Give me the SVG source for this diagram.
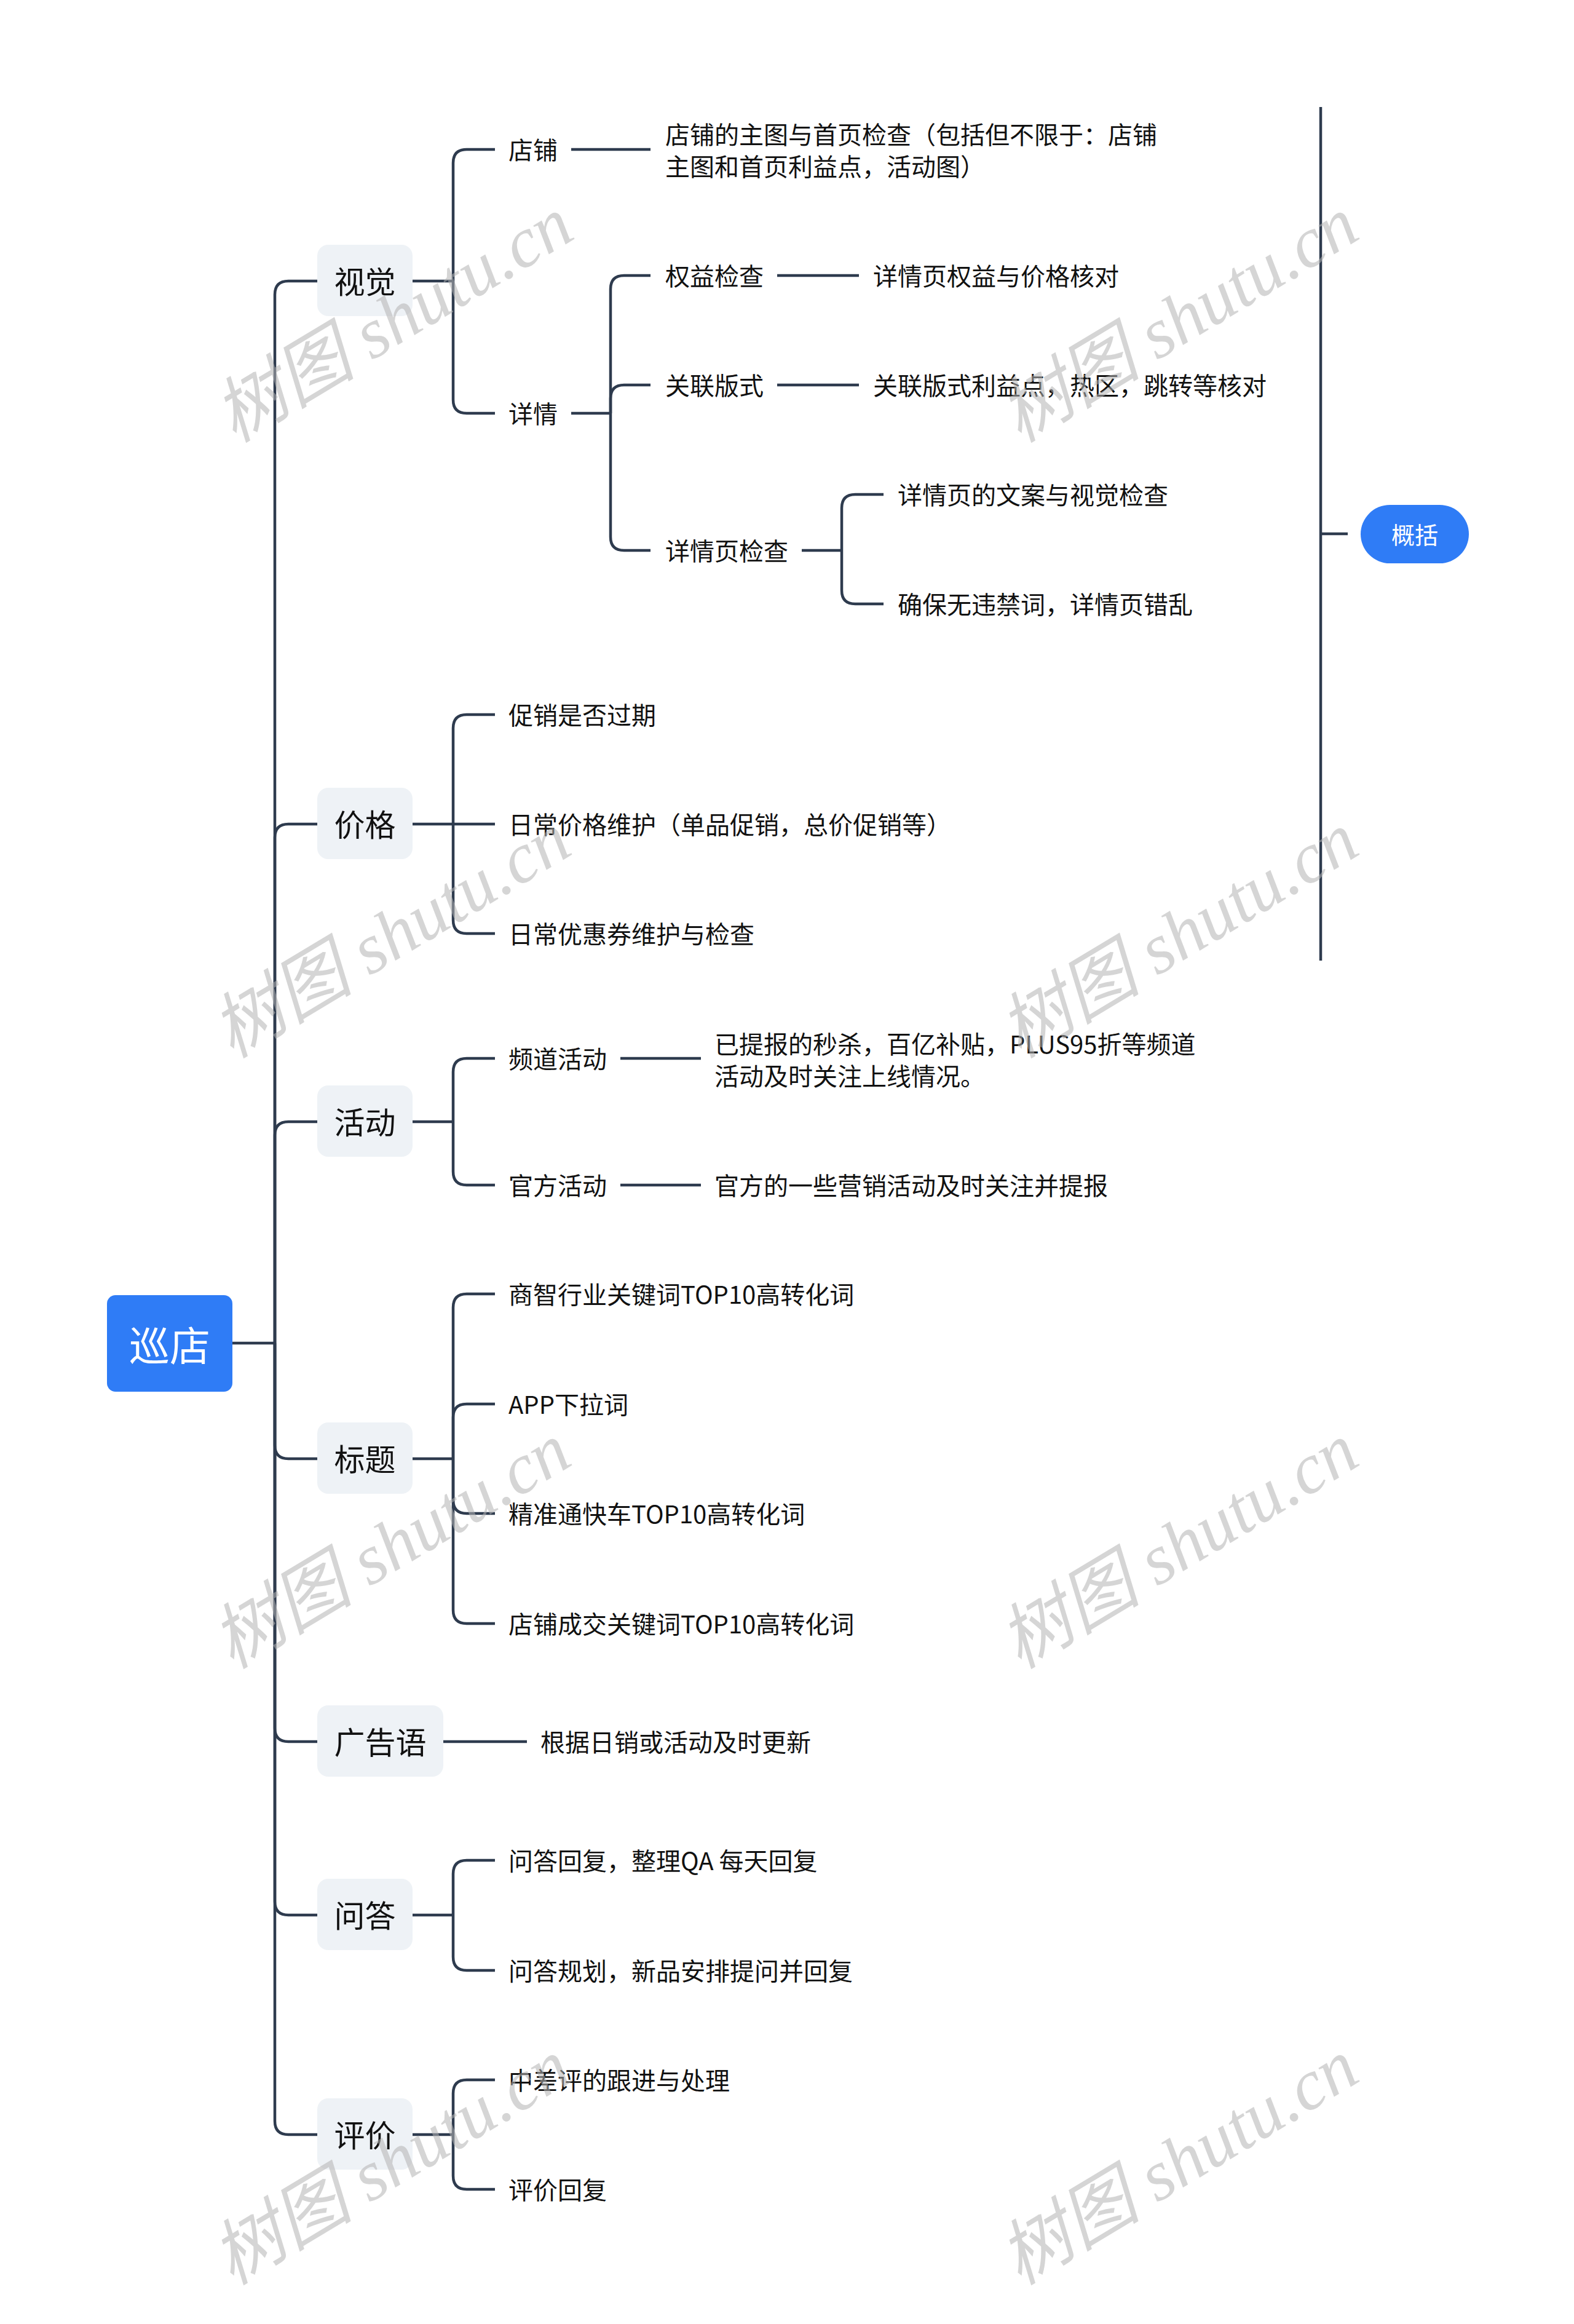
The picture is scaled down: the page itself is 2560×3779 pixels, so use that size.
<svg xmlns="http://www.w3.org/2000/svg" width="2560" height="3779" viewBox="0 0 2560 3779">
<style>
.bg{fill:#ffffff}
.c{fill:none;stroke:#2e3b4e;stroke-width:4.5;stroke-linecap:butt}
.t{font-family:"Noto Sans CJK SC","Noto Sans",sans-serif;fill:#111111;dominant-baseline:central}
.t2{font-size:40px}
.t1{font-size:50px;text-anchor:middle}
.l1{fill:#eef2f6}
.root{fill:#2f7cf6}
.rt{font-family:"Noto Sans CJK SC","Noto Sans",sans-serif;fill:#ffffff;text-anchor:middle;dominant-baseline:central}
.wm{font-family:"Liberation Serif","Noto Sans CJK SC",serif;font-style:italic;font-size:116px;fill:#b4b4b4;opacity:0.55;text-anchor:middle;dominant-baseline:central}
</style>
<rect class="bg" x="0" y="0" width="2560" height="3779"/>

<g id="connectors">
  <path class="c" d="M378,2184 H447"/>
  <path class="c" d="M447,2184 V479 Q447,457 469,457 H516"/>
  <path class="c" d="M447,2184 V1362 Q447,1340 469,1340 H516"/>
  <path class="c" d="M447,2184 V1846 Q447,1824 469,1824 H516"/>
  <path class="c" d="M447,2184 V2350 Q447,2372 469,2372 H516"/>
  <path class="c" d="M447,2184 V2810 Q447,2832 469,2832 H516"/>
  <path class="c" d="M447,2184 V3092 Q447,3114 469,3114 H516"/>
  <path class="c" d="M447,2184 V3449 Q447,3471 469,3471 H516"/>
  <path class="c" d="M671,457 H737"/>
  <path class="c" d="M737,457 V265 Q737,243 759,243 H805"/>
  <path class="c" d="M737,457 V650 Q737,672 759,672 H805"/>
  <path class="c" d="M929,243 H1058"/>
  <path class="c" d="M929,672 H993"/>
  <path class="c" d="M993,672 V470 Q993,448 1015,448 H1058"/>
  <path class="c" d="M993,672 V648 Q993,626 1015,626 H1058"/>
  <path class="c" d="M993,672 V873 Q993,895 1015,895 H1058"/>
  <path class="c" d="M1264,448 H1397"/>
  <path class="c" d="M1264,626 H1397"/>
  <path class="c" d="M1304,895 H1369"/>
  <path class="c" d="M1369,895 V826 Q1369,804 1391,804 H1437"/>
  <path class="c" d="M1369,895 V960 Q1369,982 1391,982 H1437"/>
  <path class="c" d="M671,1340 H737"/>
  <path class="c" d="M737,1340 V1184 Q737,1162 759,1162 H805"/>
  <path class="c" d="M737,1340 H805"/>
  <path class="c" d="M737,1340 V1496 Q737,1518 759,1518 H805"/>
  <path class="c" d="M671,1824 H737"/>
  <path class="c" d="M737,1824 V1743 Q737,1721 759,1721 H805"/>
  <path class="c" d="M737,1824 V1905 Q737,1927 759,1927 H805"/>
  <path class="c" d="M1009,1721 H1140"/>
  <path class="c" d="M1009,1927 H1140"/>
  <path class="c" d="M671,2372 H737"/>
  <path class="c" d="M737,2372 V2126 Q737,2104 759,2104 H805"/>
  <path class="c" d="M737,2372 V2305 Q737,2283 759,2283 H805"/>
  <path class="c" d="M737,2372 V2439 Q737,2461 759,2461 H805"/>
  <path class="c" d="M737,2372 V2618 Q737,2640 759,2640 H805"/>
  <path class="c" d="M721,2832 H857"/>
  <path class="c" d="M671,3114 H737"/>
  <path class="c" d="M737,3114 V3047 Q737,3025 759,3025 H805"/>
  <path class="c" d="M737,3114 V3182 Q737,3204 759,3204 H805"/>
  <path class="c" d="M671,3471 H737"/>
  <path class="c" d="M737,3471 V3404 Q737,3382 759,3382 H805"/>
  <path class="c" d="M737,3471 V3538 Q737,3560 759,3560 H805"/>
  <path class="c" d="M2148,174 V1562"/>
  <path class="c" d="M2148,868 H2192"/>
</g>

<g id="root">
  <rect class="root" x="174" y="2106" width="204" height="157" rx="14"/>
  <text class="rt" x="276" y="2184" font-size="66">巡店</text>
</g>

<g id="n-shijue">
  <rect class="l1" x="516" y="398" width="155" height="116" rx="18"/>
  <text class="t t1" x="593.5" y="455">视觉</text>
</g>
<g id="n-jiage">
  <rect class="l1" x="516" y="1281" width="155" height="116" rx="18"/>
  <text class="t t1" x="593.5" y="1338">价格</text>
</g>
<g id="n-huodong">
  <rect class="l1" x="516" y="1765" width="155" height="116" rx="18"/>
  <text class="t t1" x="593.5" y="1822">活动</text>
</g>
<g id="n-biaoti">
  <rect class="l1" x="516" y="2313" width="155" height="116" rx="18"/>
  <text class="t t1" x="593.5" y="2370">标题</text>
</g>
<g id="n-guanggaoyu">
  <rect class="l1" x="516" y="2773" width="205" height="116" rx="18"/>
  <text class="t t1" x="618.5" y="2830">广告语</text>
</g>
<g id="n-wenda">
  <rect class="l1" x="516" y="3055" width="155" height="116" rx="18"/>
  <text class="t t1" x="593.5" y="3112">问答</text>
</g>
<g id="n-pingjia">
  <rect class="l1" x="516" y="3412" width="155" height="116" rx="18"/>
  <text class="t t1" x="593.5" y="3469">评价</text>
</g>

<g id="n-dianpu"><text class="t t2" x="827" y="242">店铺</text></g>
<g id="n-dianpu-d"><text class="t t2" x="1082" y="217">店铺的主图与首页检查（包括但不限于：店铺</text><text class="t t2" x="1082" y="269">主图和首页利益点，活动图）</text></g>
<g id="n-xiangqing"><text class="t t2" x="827" y="671">详情</text></g>
<g id="n-quanyi"><text class="t t2" x="1082" y="447">权益检查</text></g>
<g id="n-quanyi-d"><text class="t t2" x="1420" y="447">详情页权益与价格核对</text></g>
<g id="n-guanlian"><text class="t t2" x="1082" y="625">关联版式</text></g>
<g id="n-guanlian-d"><text class="t t2" x="1420" y="625">关联版式利益点，热区，跳转等核对</text></g>
<g id="n-xqy"><text class="t t2" x="1082" y="894">详情页检查</text></g>
<g id="n-xqy-1"><text class="t t2" x="1460" y="803">详情页的文案与视觉检查</text></g>
<g id="n-xqy-2"><text class="t t2" x="1460" y="981">确保无违禁词，详情页错乱</text></g>

<g id="n-jg1"><text class="t t2" x="827" y="1161">促销是否过期</text></g>
<g id="n-jg2"><text class="t t2" x="827" y="1339">日常价格维护（单品促销，总价促销等）</text></g>
<g id="n-jg3"><text class="t t2" x="827" y="1517">日常优惠券维护与检查</text></g>

<g id="n-pindao"><text class="t t2" x="827" y="1720">频道活动</text></g>
<g id="n-pindao-d"><text class="t t2" x="1162" y="1696">已提报的秒杀，百亿补贴，PLUS95折等频道</text><text class="t t2" x="1162" y="1748">活动及时关注上线情况。</text></g>
<g id="n-guanfang"><text class="t t2" x="827" y="1926">官方活动</text></g>
<g id="n-guanfang-d"><text class="t t2" x="1162" y="1926">官方的一些营销活动及时关注并提报</text></g>

<g id="n-bt1"><text class="t t2" x="827" y="2103">商智行业关键词TOP10高转化词</text></g>
<g id="n-bt2"><text class="t t2" x="827" y="2282">APP下拉词</text></g>
<g id="n-bt3"><text class="t t2" x="827" y="2460">精准通快车TOP10高转化词</text></g>
<g id="n-bt4"><text class="t t2" x="827" y="2639">店铺成交关键词TOP10高转化词</text></g>

<g id="n-ggy1"><text class="t t2" x="879" y="2831">根据日销或活动及时更新</text></g>

<g id="n-wd1"><text class="t t2" x="827" y="3024">问答回复，整理QA 每天回复</text></g>
<g id="n-wd2"><text class="t t2" x="827" y="3203">问答规划，新品安排提问并回复</text></g>

<g id="n-pj1"><text class="t t2" x="827" y="3381">中差评的跟进与处理</text></g>
<g id="n-pj2"><text class="t t2" x="827" y="3559">评价回复</text></g>

<g id="n-gaikuo">
  <rect class="root" x="2213" y="821" width="176" height="95" rx="47.5"/>
  <text class="rt" x="2301" y="867" font-size="38">概括</text>
</g>

<g id="watermarks">
  <text class="wm" x="640" y="520" transform="rotate(-31 640 520)">树图 shutu.cn</text>
  <text class="wm" x="1917" y="520" transform="rotate(-31 1917 520)">树图 shutu.cn</text>
  <text class="wm" x="636" y="1521" transform="rotate(-31 636 1521)">树图 shutu.cn</text>
  <text class="wm" x="1917" y="1521" transform="rotate(-31 1917 1521)">树图 shutu.cn</text>
  <text class="wm" x="636" y="2514" transform="rotate(-31 636 2514)">树图 shutu.cn</text>
  <text class="wm" x="1917" y="2514" transform="rotate(-31 1917 2514)">树图 shutu.cn</text>
  <text class="wm" x="636" y="3516" transform="rotate(-31 636 3516)">树图 shutu.cn</text>
  <text class="wm" x="1917" y="3516" transform="rotate(-31 1917 3516)">树图 shutu.cn</text>
</g>
</svg>
